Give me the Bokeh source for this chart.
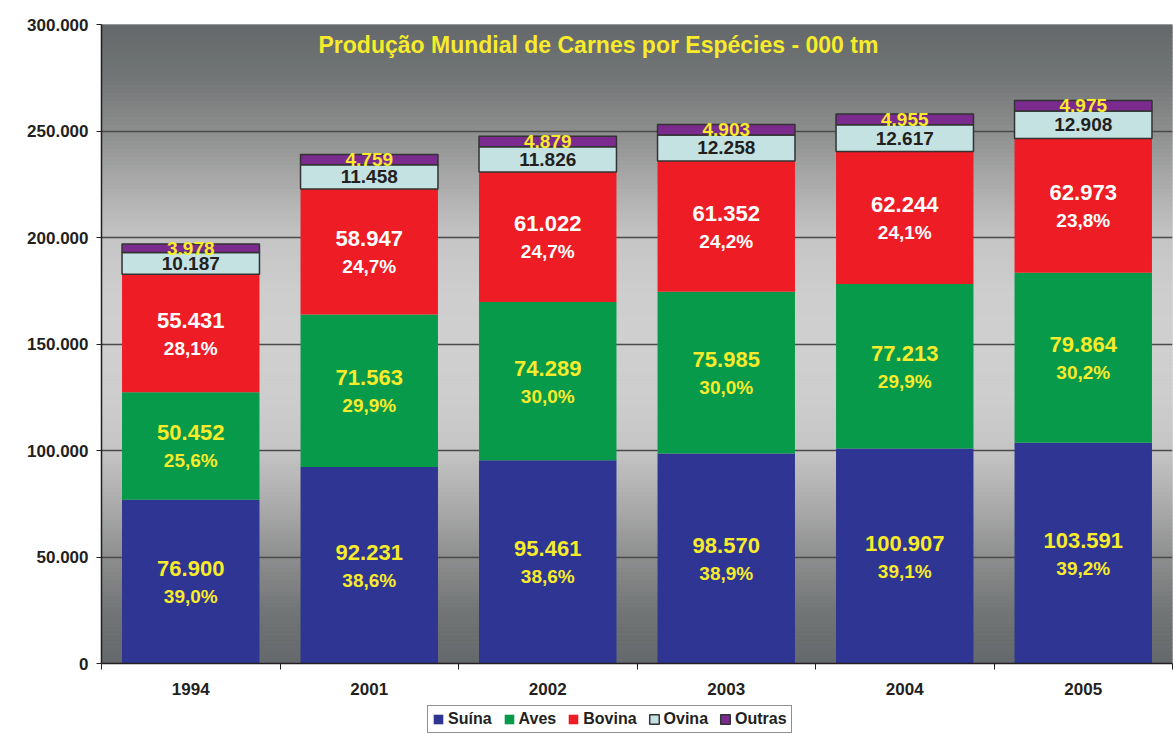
import numpy as np
from bokeh.plotting import figure
from bokeh.layouts import column
from bokeh.models import ColumnDataSource, Range1d, FixedTicker, Legend, LegendItem, Label
from bokeh.core.properties import value
from bokeh.embed import file_html
from bokeh.resources import INLINE

# ---------------- data ----------------
years = ["1994", "2001", "2002", "2003", "2004", "2005"]
species = ["Suína", "Aves", "Bovina", "Ovina", "Outras"]
suina = [76900, 92231, 95461, 98570, 100907, 103591]
aves = [50452, 71563, 74289, 75985, 77213, 79864]
bovina = [55431, 58947, 61022, 61352, 62244, 62973]
ovina = [10187, 11458, 11826, 12258, 12617, 12908]
outras = [3978, 4759, 4879, 4903, 4955, 4975]
suina_pct = ["39,0%", "38,6%", "38,6%", "38,9%", "39,1%", "39,2%"]
aves_pct = ["25,6%", "29,9%", "30,0%", "30,0%", "29,9%", "30,2%"]
bovina_pct = ["28,1%", "24,7%", "24,7%", "24,2%", "24,1%", "23,8%"]
y_ticks = [0, 50000, 100000, 150000, 200000, 250000, 300000]
title = "Produção Mundial de Carnes por Espécies - 000 tm"

# ---------------- style ----------------
FONT = "Liberation Sans"
DARK = "#231F20"
YELLOW = "#F7EB2B"
colors = ["#2E3592", "#079A4A", "#EE1C25", "#C3E2E1", "#7B2A8E"]
val_colors = [YELLOW, YELLOW, "white", DARK, YELLOW]


def fmt(v):
    return f"{v:,}".replace(",", ".")


p = figure(width=1173, height=704, output_backend="svg", toolbar_location=None,
           x_range=Range1d(0, 6), y_range=Range1d(0, 300000),
           min_border_left=101, min_border_right=1, min_border_top=24, min_border_bottom=41,
           border_fill_color="white", background_fill_color="#CFCFCF",
           outline_line_color=None)

# background gradient (dark at top & bottom, light in the middle)
n = 160
edges = np.linspace(0, 300000, n + 1)
fr = (edges[:-1] + edges[1:]) / 2 / 300000
d = 1 - np.abs(fr - 0.5) * 2
dp = [0, 0.167, 0.333, 0.5, 0.667, 0.833, 1.0]
rr = np.interp(d, dp, [101, 115, 142, 172, 197, 206, 208])
gg = np.interp(d, dp, [105, 118, 143, 172, 197, 206, 208])
bb = np.interp(d, dp, [107, 119, 143, 172, 197, 206, 208])
grad_cols = ["#%02x%02x%02x" % (int(a), int(b), int(c)) for a, b, c in zip(rr, gg, bb)]
p.quad(left=0, right=6, bottom=edges[:-1], top=edges[1:], fill_color=grad_cols,
       line_color=grad_cols, line_width=1, level="image")

# axes
xa = p.xaxis[0]
xa.ticker = FixedTicker(ticks=[i + 0.5 for i in range(len(years))],
                        minor_ticks=list(range(len(years) + 1)))
xa.major_label_overrides = {i + 0.5: y for i, y in enumerate(years)}
xa.major_tick_out = 0
xa.major_tick_in = 0
xa.minor_tick_out = 6
xa.minor_tick_in = 0
xa.minor_tick_line_color = DARK
xa.axis_line_color = DARK
xa.axis_line_width = 1.5
xa.major_label_text_font = FONT
xa.major_label_text_font_style = "bold"
xa.major_label_text_font_size = "17px"
xa.major_label_text_color = DARK
xa.major_label_standoff = 13

ya = p.yaxis[0]
ya.ticker = FixedTicker(ticks=y_ticks)
ya.major_label_overrides = {t: fmt(t) for t in y_ticks}
ya.minor_tick_out = 0
ya.minor_tick_in = 0
ya.major_tick_out = 5
ya.major_tick_in = 0
ya.major_tick_line_color = DARK
ya.axis_line_color = DARK
ya.axis_line_width = 1.5
ya.major_label_text_font = FONT
ya.major_label_text_font_style = "bold"
ya.major_label_text_font_size = "17px"
ya.major_label_text_color = DARK
ya.major_label_standoff = 8

p.xgrid.visible = False
p.ygrid.ticker = FixedTicker(ticks=y_ticks[1:-1])
p.ygrid.grid_line_color = "#4A4A4A"
p.ygrid.grid_line_width = 1.5

# stacked bars
series = [suina, aves, bovina, ovina, outras]
pcts = [suina_pct, aves_pct, bovina_pct, None, None]
x = np.arange(len(years)) + 0.5
bottom = np.zeros(len(years))
for name, vals, col, vcol, pct in zip(species, series, colors, val_colors, pcts):
    vals = np.array(vals, dtype=float)
    top = bottom + vals
    src = ColumnDataSource(dict(x=x, bottom=bottom.copy(), top=top, mid=(bottom + top) / 2,
                                label=[fmt(int(v)) for v in vals],
                                pct=pct if pct else [""] * len(years)))
    outlined = name in ("Ovina", "Outras")
    p.vbar(x="x", width=0.77, bottom="bottom", top="top", source=src,
           fill_color=col, line_color="#333333" if outlined else None, line_width=1.5)
    if pct:
        p.text(x="x", y="mid", text="label", source=src, text_align="center",
               text_baseline="middle", text_font=value(FONT), text_font_style="bold",
               text_font_size="22px", text_color=vcol, y_offset=-13)
        p.text(x="x", y="mid", text="pct", source=src, text_align="center",
               text_baseline="middle", text_font=value(FONT), text_font_style="bold",
               text_font_size="19px", text_color=vcol, y_offset=15)
    else:
        p.text(x="x", y="mid", text="label", source=src, text_align="center",
               text_baseline="middle", text_font=value(FONT), text_font_style="bold",
               text_font_size="19px", text_color=vcol)
    bottom = top

# title inside the plot area
p.add_layout(Label(x=2.784, y=290600, text=title, text_align="center",
                   text_baseline="middle", text_font=FONT, text_font_style="bold",
                   text_font_size="23px", text_color=YELLOW))

# legend strip (separate small figure underneath, frame aligned with the chart)
lg = figure(width=1173, height=30, output_backend="svg", toolbar_location=None,
            x_range=Range1d(0, 1), y_range=Range1d(0, 1),
            x_axis_location=None, y_axis_location=None,
            min_border=0, border_fill_color="white", background_fill_color="white",
            outline_line_color=None)
lg.grid.visible = False
items = []
for name, col in zip(species, colors):
    outlined = name in ("Ovina", "Outras")
    proxy = ColumnDataSource(dict(x=[np.nan], top=[np.nan]))
    r = lg.vbar(x="x", top="top", width=0.5, source=proxy, fill_color=col,
                line_color="#333333" if outlined else None, line_width=1.5)
    items.append(LegendItem(label=name, renderers=[r]))

legend = Legend(items=items, orientation="horizontal", location=(326, 1),
                glyph_width=12, glyph_height=12, label_standoff=4, spacing=11,
                padding=4, margin=0, border_line_color=DARK, border_line_width=1,
                background_fill_color="white", background_fill_alpha=1,
                label_text_font=FONT, label_text_font_style="bold",
                label_text_font_size="16px", label_text_color=DARK, label_height=18)
lg.add_layout(legend)

layout = column(p, lg, spacing=0)
open("out.html", "w").write(file_html(layout, INLINE))
